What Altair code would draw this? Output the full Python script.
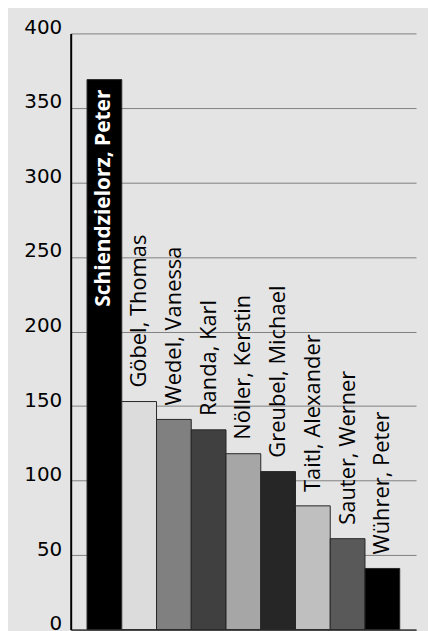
import altair as alt
import pandas as pd

names = ["Schiendzielorz, Peter", "Göbel, Thomas", "Wedel, Vanessa", "Randa, Karl",
         "Nöller, Kerstin", "Greubel, Michael", "Taitl, Alexander", "Sauter, Werner",
         "Wührer, Peter"]
values = [369, 153, 141, 134, 118, 106, 83, 61, 41]
colors = ["#000000", "#dcdcdc", "#808080", "#404040", "#a6a6a6", "#262626",
          "#bfbfbf", "#595959", "#000000"]
inside = [True, False, False, False, False, False, False, False, False]
y_ticks = [0, 50, 100, 150, 200, 250, 300, 350, 400]

df = pd.DataFrame({"name": names, "value": values, "inside": inside})

x = alt.X("name:N", sort=names,
          scale=alt.Scale(paddingInner=0, paddingOuter=0.47),
          axis=alt.Axis(title=None, labels=False, ticks=False, domain=True,
                        domainColor="#000000", domainWidth=1))
y = alt.Y("value:Q", scale=alt.Scale(domain=[0, 400], nice=False),
          axis=alt.Axis(title=None, values=y_ticks, ticks=False,
                        domainColor="#000000", domainWidth=2,
                        grid=True, gridColor="#808080", gridWidth=1,
                        labelFont="DejaVu Sans", labelFontSize=20,
                        labelColor="#000000", labelPadding=9,
                        labelBaseline="alphabetic"))

bars = alt.Chart(df).mark_bar(stroke="#262626", strokeWidth=1).encode(
    x=x, y=y,
    color=alt.Color("name:N", scale=alt.Scale(domain=names, range=colors), legend=None),
)

lab_out = alt.Chart(df).transform_filter("!datum.inside").mark_text(
    angle=270, align="left", baseline="middle", dx=14,
    font="Open Sans", fontSize=22, color="#000000"
).encode(x=alt.X("name:N", sort=names), y="value:Q", text="name:N")

lab_in = alt.Chart(df).transform_filter("datum.inside").mark_text(
    angle=270, align="right", baseline="middle", dx=-10,
    font="Open Sans", fontSize=21, fontWeight="bold", color="#ffffff"
).encode(x=alt.X("name:N", sort=names), y="value:Q", text="name:N")

chart = alt.layer(bars, lab_out, lab_in).properties(
    width=347, height=599,
    autosize=alt.AutoSizeParams(type="none"),
    padding={"left": 63, "top": 24, "right": 12, "bottom": 20},
    background="#e4e4e4",
).configure_view(stroke=None)

chart.save("out.html", embed_options={"renderer": "svg", "actions": False})
